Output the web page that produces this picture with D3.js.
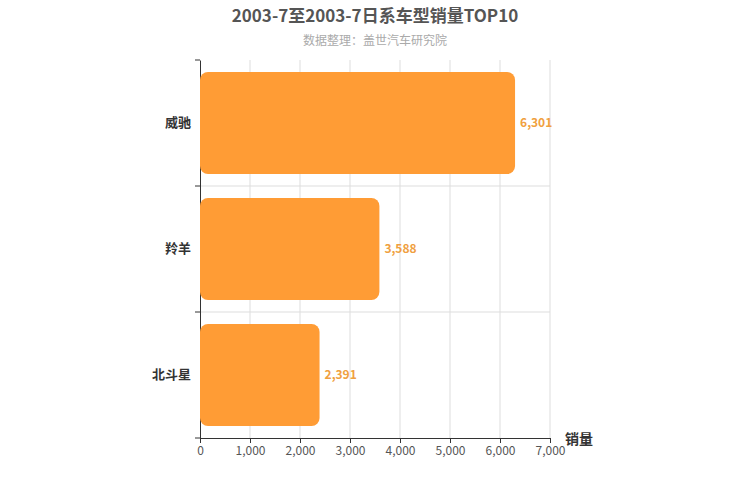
<!DOCTYPE html>
<html><head><meta charset="utf-8">
<script src="https://cdn.jsdelivr.net/npm/d3@7"></script>
<style>body{margin:0;background:#fff}</style></head>
<body><svg id="c" width="750" height="500"></svg>
<script>
const categories = ["威驰","羚羊","北斗星"];
const values = [6301,3588,2391];
const xTicks = [0,1000,2000,3000,4000,5000,6000,7000];
const title = "2003-7至2003-7日系车型销量TOP10";
const subtitle = "数据整理：盖世汽车研究院";
const axisName = "销量";

const svg = d3.select("#c");
const font = "'Noto Sans CJK SC', 'Liberation Sans', sans-serif";
const L=200,R=550,T=60,B=438;
const x = d3.scaleLinear().domain([0,7000]).range([L,R]);
const y = d3.scaleBand().domain(categories).range([T,B]).paddingInner(0.19).paddingOuter(0.095);
const yb = d3.scaleBand().domain(categories).range([T,B]);

svg.append("text").attr("x",375).attr("y",22).attr("text-anchor","middle")
  .attr("font-family",font).attr("font-weight","bold").attr("font-size",17).attr("fill","#555").text(title);
svg.append("text").attr("x",375).attr("y",45).attr("text-anchor","middle")
  .attr("font-family",font).attr("font-size",12).attr("fill","#aaa").text(subtitle);

// grid
svg.append("g").selectAll("line").data(xTicks.slice(1)).join("line")
  .attr("x1",d=>x(d)).attr("x2",d=>x(d)).attr("y1",T).attr("y2",B).attr("stroke","#ddd");
svg.append("g").selectAll("line").data(categories.slice(1)).join("line")
  .attr("x1",L).attr("x2",R).attr("y1",d=>yb(d)).attr("y2",d=>yb(d)).attr("stroke","#ddd");

// x axis
const xa = svg.append("g").attr("transform",`translate(0,${B})`)
  .call(d3.axisBottom(x).tickValues(xTicks).tickFormat(d3.format(",")).tickSize(5));
xa.select(".domain").attr("stroke","#333");
xa.selectAll(".tick line").attr("stroke","#333");
xa.selectAll("text").attr("font-family",font).attr("font-size",12).attr("fill","#555");

// y axis
const ya = svg.append("g").attr("transform",`translate(${L},0)`)
  .call(d3.axisLeft(yb).tickSize(0).tickPadding(9));
ya.select(".domain").attr("stroke","#333");
ya.selectAll("text").attr("font-family",font).attr("font-size",13).attr("font-weight","bold").attr("fill","#333");
ya.selectAll("line.bt").data([T,...categories.slice(1).map(c=>yb(c)),B]).join("line")
  .attr("x1",-5).attr("x2",0).attr("y1",d=>d).attr("y2",d=>d).attr("stroke","#333");

// bars
svg.append("g").selectAll("rect").data(values).join("rect")
  .attr("x",x(0)).attr("y",(d,i)=>y(categories[i])).attr("width",d=>x(d)-x(0))
  .attr("height",y.bandwidth()).attr("rx",8).attr("fill","#ff9c35");
svg.append("g").selectAll("text").data(values).join("text")
  .attr("x",d=>x(d)+5).attr("y",(d,i)=>y(categories[i])+y.bandwidth()/2+4)
  .attr("font-family",font).attr("font-size",12).attr("font-weight","bold").attr("fill","#f0a040")
  .text(d=>d3.format(",")(d));

svg.append("text").attr("x",565).attr("y",444).attr("font-family",font)
  .attr("font-size",14).attr("font-weight","bold").attr("fill","#333").text(axisName);
</script></body></html>
